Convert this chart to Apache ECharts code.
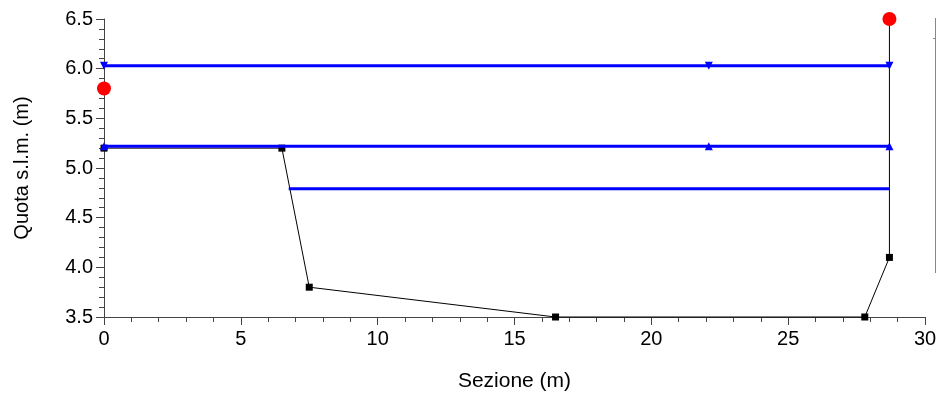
<!DOCTYPE html>
<html>
<head>
<meta charset="utf-8">
<script src="https://cdn.jsdelivr.net/npm/echarts@6/dist/echarts.min.js"></script>
<style>
html, body { margin: 0; padding: 0; background: #fff; }
#chart { width: 936px; height: 399px; }
</style>
</head>
<body>
<div id="chart"></div>
<script>
// profilo del terreno
var groundX = [0, 6.5, 7.5, 16.5, 27.8, 28.7, 28.7];
var groundY = [5.2, 5.2, 3.8, 3.5, 3.5, 4.1, 6.5];
var groundMarks = [true, true, true, true, true, true, false];

// argini (punti rossi)
var bankX = [0, 28.7];
var bankY = [5.8, 6.5];

// livelli idrici
var level1X = [0, 22.1, 28.7];
var level1Y = 6.03;
var level2X = [0, 22.1, 28.7];
var level2Y = 5.22;
var level3X = [6.75, 28.7];
var level3Y = 4.79;

function pairs(xs, ys) {
    return xs.map(function (x, i) {
        return [x, Array.isArray(ys) ? ys[i] : ys];
    });
}

var chart = echarts.init(document.getElementById('chart'));

var groundData = groundX.map(function (x, i) {
    return {
        value: [x, groundY[i]],
        symbolSize: groundMarks[i] ? 7 : 0
    };
});

var axisColor = '#444';

var option = {
    animation: false,
    grid: { left: 104, right: 11, top: 19, bottom: 82, outerBoundsMode: 'none', containLabel: false },
    xAxis: {
        type: 'value',
        min: 0,
        max: 30,
        interval: 5,
        name: 'Sezione (m)',
        nameLocation: 'middle',
        nameGap: 54,
        nameTextStyle: { fontFamily: 'Liberation Sans', fontSize: 21, color: '#000' },
        axisLine: { show: true, onZero: false, lineStyle: { color: axisColor, width: 1 } },
        axisTick: { show: true, length: 8, lineStyle: { color: axisColor } },
        minorTick: { show: true, splitNumber: 5, length: 5, lineStyle: { color: axisColor } },
        axisLabel: { fontFamily: 'Liberation Sans', fontSize: 20, color: '#000', margin: 12 },
        splitLine: { show: false }
    },
    yAxis: {
        type: 'value',
        min: 3.5,
        max: 6.5,
        interval: 0.5,
        name: 'Quota s.l.m. (m)',
        nameLocation: 'middle',
        nameGap: 72,
        nameTextStyle: { fontFamily: 'Liberation Sans', fontSize: 20, color: '#000' },
        axisLine: { show: true, onZero: false, lineStyle: { color: axisColor, width: 1 } },
        axisTick: { show: true, length: 8, lineStyle: { color: axisColor } },
        minorTick: { show: true, splitNumber: 5, length: 5, lineStyle: { color: axisColor } },
        axisLabel: {
            fontFamily: 'Liberation Sans', fontSize: 20, color: '#000', margin: 11,
            formatter: function (v) { return v.toFixed(1); }
        },
        splitLine: { show: false }
    },
    graphic: [
        { type: 'line', shape: { x1: 935.5, y1: 18, x2: 935.5, y2: 273 }, style: { stroke: '#888', lineWidth: 1 } },
        { type: 'line', shape: { x1: 933, y1: 38.5, x2: 936, y2: 38.5 }, style: { stroke: '#888', lineWidth: 1 } }
    ],
    series: [
        {
            type: 'line',
            data: groundData,
            symbol: 'rect',
            symbolSize: 7,
            clip: false,
            itemStyle: { color: '#000' },
            lineStyle: { color: '#000', width: 1 },
            z: 2
        },
        {
            type: 'line',
            data: pairs(level1X, level1Y),
            symbol: 'triangle',
            symbolRotate: 180,
            symbolSize: 8,
            clip: false,
            itemStyle: { color: '#0000ff' },
            lineStyle: { color: '#0000ff', width: 3 },
            z: 3
        },
        {
            type: 'line',
            data: pairs(level2X, level2Y),
            symbol: 'triangle',
            symbolSize: 8,
            clip: false,
            itemStyle: { color: '#0000ff' },
            lineStyle: { color: '#0000ff', width: 3 },
            z: 3
        },
        {
            type: 'line',
            data: pairs(level3X, level3Y),
            symbol: 'none',
            clip: false,
            lineStyle: { color: '#0000ff', width: 3 },
            z: 3
        },
        {
            type: 'scatter',
            data: pairs(bankX, bankY),
            symbol: 'circle',
            symbolSize: 14,
            clip: false,
            itemStyle: { color: '#ff0000', opacity: 1 },
            z: 4
        }
    ]
};

chart.setOption(option);
</script>
</body>
</html>
